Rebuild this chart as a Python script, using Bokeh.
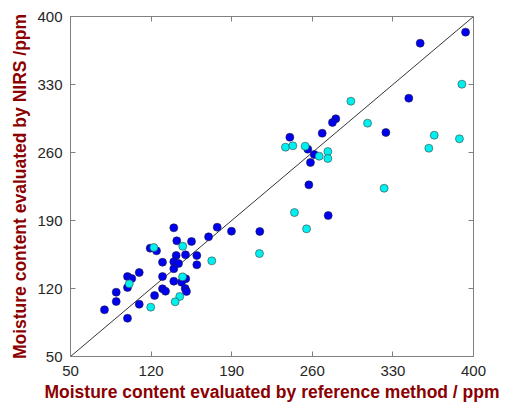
from bokeh.plotting import figure
from bokeh.models import LinearAxis, Range1d, FixedTicker, CustomLabelingPolicy
from bokeh.embed import file_html
from bokeh.resources import INLINE

# Data
blue_x = [393.1, 353.7, 343.8, 280.4, 277.5, 268.6, 323.9, 240.5, 256.1, 261.7, 258.4, 257.0,
          273.8, 177.4, 189.8, 214.4, 139.7, 169.9, 142.3, 155.1, 119.2, 124.7, 141.8, 149.9,
          159.7, 129.9, 139.7, 143.8, 159.7, 139.7, 109.7, 99.5, 103.2, 129.9, 150.1, 139.7,
          146.4, 99.5, 89.7, 129.9, 132.5, 149.6, 150.7, 123.0, 89.7, 109.7, 79.5, 99.5]
blue_y = [383.9, 372.5, 315.9, 294.7, 290.9, 279.9, 280.6, 275.7, 263.4, 257.9, 249.7, 226.7,
          195.1, 183.1, 179.0, 178.7, 182.5, 173.2, 169.1, 168.4, 161.5, 158.8, 154.0, 154.7,
          154.0, 147.1, 147.5, 145.7, 144.4, 140.3, 136.5, 132.3, 130.3, 132.3, 130.0, 127.5,
          126.5, 121.0, 116.2, 119.7, 117.2, 120.0, 116.9, 112.8, 106.6, 103.8, 98.1, 89.4]
cyan_x = [389.9, 293.5, 308.0, 365.9, 387.8, 361.2, 236.7, 243.1, 253.8, 266.0, 273.5, 273.5,
          322.4, 244.5, 255.0, 214.1, 147.5, 122.4, 172.7, 147.3, 101.0, 144.9, 140.9, 119.7]
cyan_y = [330.3, 312.8, 290.2, 277.8, 274.1, 264.4, 265.5, 266.9, 266.5, 256.2, 261.0, 253.8,
          223.2, 198.2, 181.4, 156.0, 163.5, 162.2, 148.5, 132.0, 124.8, 111.8, 106.3, 100.8]
ticks = [50, 120, 190, 260, 330, 400]
diag = [50, 400]

x_label = "Moisture content evaluated by reference method / ppm"
y_label = "Moisture content evaluated by NIRS /ppm"

FONT = "Liberation Sans"
LABEL_COLOR = "#8b0000"
AXIS_COLOR = "#808080"
TICK_TEXT = "#262626"

p = figure(width=505, height=406, output_backend="svg", toolbar_location=None,
           x_range=Range1d(50, 400), y_range=Range1d(50, 400),
           x_axis_location=None, y_axis_location=None,
           min_border_left=70, min_border_right=32, min_border_top=16, min_border_bottom=50)
p.grid.visible = False
p.outline_line_color = None
p.background_fill_color = "white"
p.border_fill_color = "white"

no_labels = CustomLabelingPolicy(code="""
for (const i of indices) { indices.unset(i) }
return indices
""")

def style_axis(ax, show_labels):
    ax.ticker = FixedTicker(ticks=ticks)
    ax.axis_line_color = AXIS_COLOR
    ax.axis_line_width = 1
    ax.major_tick_line_color = AXIS_COLOR
    ax.major_tick_in = 5
    ax.major_tick_out = 0
    ax.minor_tick_line_color = None
    ax.major_label_text_font = FONT
    ax.major_label_text_color = TICK_TEXT
    if show_labels:
        ax.major_label_text_font_size = "15px"
    else:
        ax.major_label_text_font_size = "1px"
        ax.major_label_standoff = 0
        ax.major_label_policy = no_labels
    ax.axis_label_text_font = FONT
    ax.axis_label_text_font_style = "bold"
    ax.axis_label_text_color = LABEL_COLOR
    ax.axis_label_text_font_size = "17.5px"

xb = LinearAxis(axis_label=x_label)
style_axis(xb, True)
xb.major_label_standoff = 9
xb.axis_label_standoff = 3
p.add_layout(xb, "below")
yl = LinearAxis(axis_label=y_label)
style_axis(yl, True)
yl.major_label_standoff = 8
yl.axis_label_standoff = 4
p.add_layout(yl, "left")
xt = LinearAxis()
style_axis(xt, False)
p.add_layout(xt, "above")
yr = LinearAxis()
style_axis(yr, False)
p.add_layout(yr, "right")

p.line(diag, diag, line_color="black", line_width=0.8)
p.scatter(blue_x, blue_y, size=8, marker="circle", fill_color="#0000f0",
          line_color="#202040", line_width=0.6)
p.scatter(cyan_x, cyan_y, size=8, marker="circle", fill_color="#00f0f0",
          line_color="#404040", line_width=0.6)

open("out.html", "w").write(file_html(p, INLINE))
